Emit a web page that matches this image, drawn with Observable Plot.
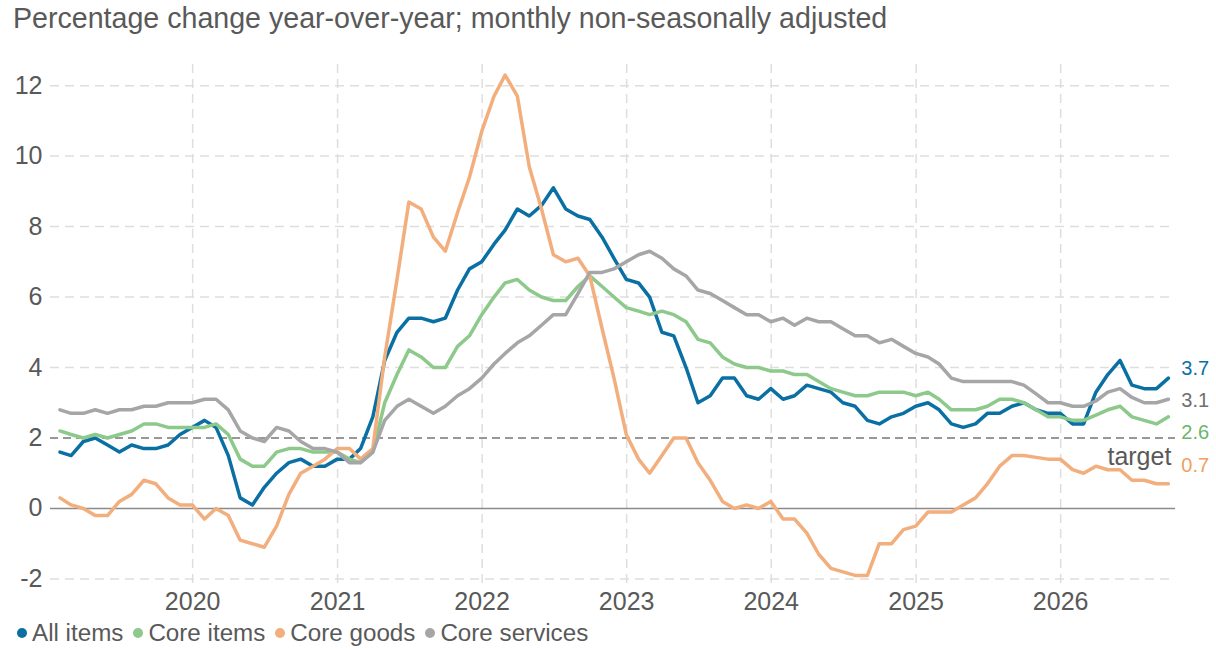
<!DOCTYPE html>
<html><head><meta charset="utf-8">
<script src="https://cdn.jsdelivr.net/npm/d3@7"></script>
<script src="https://cdn.jsdelivr.net/npm/@observablehq/plot@0.6"></script>
<style>
body{margin:0;background:#fff;font-family:"Liberation Sans",Arial,sans-serif;color:#595959;width:1216px;overflow:hidden}
#title{height:40px;line-height:36px;font-size:28.6px;padding-left:13px;white-space:nowrap}
#chart{height:577px}
#legend{display:flex;align-items:center;height:32px;padding-left:17px;font-size:24.2px;white-space:nowrap}
.item{display:flex;align-items:center;margin-right:10px}
.dot{width:10px;height:10px;border-radius:50%;margin-right:5px}
</style></head><body>
<div id="title">Percentage change year-over-year; monthly non-seasonally adjusted</div>
<div id="chart"></div>
<div id="legend"></div>
<script>
// Monthly observations, Jan 2019 – Sep 2026 (plotted at month end)
const firstMonth = "2019-01";
const lastMonth = "2026-09";

const allItems = [
  1.6,1.5,1.9,2.0,1.8,1.6,1.8,1.7,1.7,1.8,2.1,2.3,
  2.5,2.3,1.5,0.3,0.1,0.6,1.0,1.3,1.4,1.2,1.2,1.4,
  1.4,1.7,2.6,4.2,5.0,5.4,5.4,5.3,5.4,6.2,6.8,7.0,
  7.5,7.9,8.5,8.3,8.6,9.1,8.5,8.3,8.2,7.7,7.1,6.5,
  6.4,6.0,5.0,4.9,4.0,3.0,3.2,3.7,3.7,3.2,3.1,3.4,
  3.1,3.2,3.5,3.4,3.3,3.0,2.9,2.5,2.4,2.6,2.7,2.9,
  3.0,2.8,2.4,2.3,2.4,2.7,2.7,2.9,3.0,2.8,2.7,2.7,
  2.4,2.4,3.3,3.8,4.2,3.5,3.4,3.4,3.7
];
const coreItems = [
  2.2,2.1,2.0,2.1,2.0,2.1,2.2,2.4,2.4,2.3,2.3,2.3,
  2.3,2.4,2.1,1.4,1.2,1.2,1.6,1.7,1.7,1.6,1.6,1.6,
  1.4,1.3,1.6,3.0,3.8,4.5,4.3,4.0,4.0,4.6,4.9,5.5,
  6.0,6.4,6.5,6.2,6.0,5.9,5.9,6.3,6.6,6.3,6.0,5.7,
  5.6,5.5,5.6,5.5,5.3,4.8,4.7,4.3,4.1,4.0,4.0,3.9,
  3.9,3.8,3.8,3.6,3.4,3.3,3.2,3.2,3.3,3.3,3.3,3.2,
  3.3,3.1,2.8,2.8,2.8,2.9,3.1,3.1,3.0,2.8,2.6,2.6,
  2.5,2.5,2.65,2.8,2.9,2.6,2.5,2.4,2.6
];
const coreGoods = [
  0.3,0.1,0.0,-0.2,-0.2,0.2,0.4,0.8,0.7,0.3,0.1,0.1,
  -0.3,0.0,-0.2,-0.9,-1.0,-1.1,-0.5,0.4,1.0,1.2,1.4,1.7,
  1.7,1.4,1.7,4.3,6.5,8.7,8.5,7.7,7.3,8.4,9.4,10.7,
  11.7,12.3,11.7,9.7,8.5,7.2,7.0,7.1,6.6,5.1,3.7,2.1,
  1.4,1.0,1.5,2.0,2.0,1.3,0.8,0.2,0.0,0.1,0.0,0.2,
  -0.3,-0.3,-0.7,-1.3,-1.7,-1.8,-1.9,-1.9,-1.0,-1.0,-0.6,-0.5,
  -0.1,-0.1,-0.1,0.1,0.3,0.7,1.2,1.5,1.5,1.45,1.4,1.4,
  1.1,1.0,1.2,1.1,1.1,0.8,0.8,0.7,0.7
];
const coreServices = [
  2.8,2.7,2.7,2.8,2.7,2.8,2.8,2.9,2.9,3.0,3.0,3.0,
  3.1,3.1,2.8,2.2,2.0,1.9,2.3,2.2,1.9,1.7,1.7,1.6,
  1.3,1.3,1.6,2.5,2.9,3.1,2.9,2.7,2.9,3.2,3.4,3.7,
  4.1,4.4,4.7,4.9,5.2,5.5,5.5,6.1,6.7,6.7,6.8,7.0,
  7.2,7.3,7.1,6.8,6.6,6.2,6.1,5.9,5.7,5.5,5.5,5.3,
  5.4,5.2,5.4,5.3,5.3,5.1,4.9,4.9,4.7,4.8,4.6,4.4,
  4.3,4.1,3.7,3.6,3.6,3.6,3.6,3.6,3.5,3.25,3.0,3.0,
  2.9,2.9,3.05,3.3,3.4,3.15,3.0,3.0,3.1
];

const seriesNames = ["All items", "Core items", "Core goods", "Core services"];
const seriesValues = [allItems, coreItems, coreGoods, coreServices];
const lineColors = ["#0a70a3", "#8cc98a", "#f2ae7c", "#a6a6a9"];
const labelColors = ["#0a70a3", "#6cb56a", "#f0a062", "#6f6f6f"];
const labelOffsets = [-9, 16, -18, 1];   // px nudges to keep end labels apart
const yTicks = [-2, 0, 2, 4, 6, 8, 10, 12];
const xTickYears = [2020, 2021, 2022, 2023, 2024, 2025, 2026];
const targetValue = 2;
const targetLabel = "target";

// month-end dates
const parseM = d3.utcParse("%Y-%m");
const dates = d3.utcMonth.range(d3.utcMonth.offset(parseM(firstMonth), 1), d3.utcMonth.offset(parseM(lastMonth), 2))
  .map(d => d3.utcDay.offset(d, -1));
const yearDates = xTickYears.map(y => new Date(Date.UTC(y, 0, 1)));

const gridStyle = {stroke: "#dedede", strokeWidth: 1.5, strokeDasharray: "9,6"};

const marks = [
  Plot.ruleY(yTicks.filter(t => t !== 0 && t !== targetValue), gridStyle),
  Plot.ruleX(yearDates, gridStyle),
  Plot.ruleY([0], {stroke: "#8a8a8a", strokeWidth: 1.5}),
  Plot.ruleY([targetValue], {stroke: "#777", strokeWidth: 1.5, strokeDasharray: "8,5"}),
  Plot.axisY({ticks: yTicks, tickSize: 0, tickPadding: 8, tickFormat: d => String(d), fontSize: 25, label: null}),
  Plot.axisX({ticks: yearDates, tickSize: 0, tickPadding: 3, tickFormat: d3.utcFormat("%Y"), fontSize: 25, label: null}),
];

seriesNames.forEach((name, i) => {
  const rows = dates.map((d, j) => ({date: d, value: seriesValues[i][j]}));
  marks.push(Plot.lineY(rows, {x: "date", y: "value", stroke: lineColors[i], strokeWidth: 3.5, strokeLinejoin: "round"}));
});
seriesNames.forEach((name, i) => {
  const last = {date: dates[dates.length - 1], value: seriesValues[i][seriesValues[i].length - 1]};
  marks.push(Plot.text([last], {x: "date", y: "value", text: d => d.value.toFixed(1), textAnchor: "start",
    dx: 13, dy: labelOffsets[i], fill: labelColors[i], fontSize: 20}));
});
marks.push(Plot.text([targetLabel], {x: dates[dates.length - 1], y: targetValue, text: d => d, textAnchor: "end",
  dx: 3, dy: 19, fill: "#595959", fontSize: 25}));

const chart = Plot.plot({
  width: 1216, height: 577,
  marginLeft: 50, marginRight: 41, marginTop: 24, marginBottom: 28,
  x: {type: "utc", domain: [new Date("2019-01-07"), new Date("2026-10-18")], label: null},
  y: {domain: [-2.3, 12.6], label: null},
  style: {fontFamily: "'Liberation Sans', Arial, sans-serif", color: "#595959", background: "white", overflow: "visible"},
  marks
});
document.getElementById("chart").appendChild(chart);

const legend = document.getElementById("legend");
seriesNames.forEach((name, i) => {
  const it = document.createElement("div"); it.className = "item";
  const dot = document.createElement("span"); dot.className = "dot"; dot.style.background = lineColors[i];
  const t = document.createElement("span"); t.textContent = name;
  it.appendChild(dot); it.appendChild(t); legend.appendChild(it);
});
</script>
</body></html>
